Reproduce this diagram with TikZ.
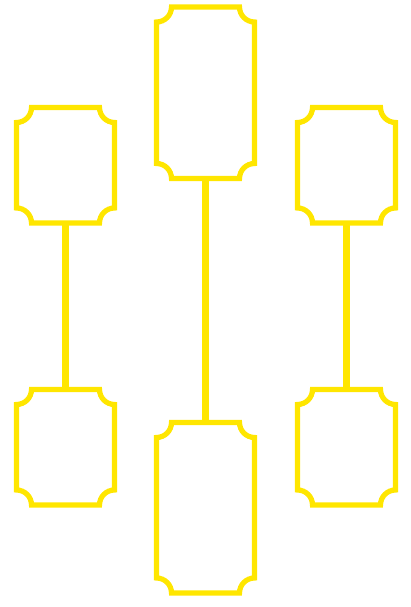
\documentclass[tikz,border=0pt]{standalone}
\begin{document}
\begin{tikzpicture}[x=1pt,y=1pt,
  yel/.style={draw={rgb,255:red,255;green,230;blue,0},line width=5.2pt},
  link/.style={draw={rgb,255:red,255;green,230;blue,0},line width=6.5pt},
  anchorbox/.style={inner sep=0pt,outer sep=0pt,minimum width=98pt}]
\useasboundingbox (0,0) rectangle (411,607);
\def\r{15}
% \concbox{name}{L}{B}{R}{T}
\newcommand\concbox[5]{%
  \node[anchorbox,minimum height={#5-#3}] (#1) at ({(#2+#4)/2},{(#3+#5)/2}) {};
  \draw[yel,line join=miter] ({#4-\r},#5) arc[start angle=180,end angle=270,radius=\r]
    -- (#4,{#3+\r}) arc[start angle=90,end angle=180,radius=\r]
    -- ({#2+\r},#3) arc[start angle=0,end angle=90,radius=\r]
    -- (#2,{#5-\r}) arc[start angle=270,end angle=360,radius=\r] -- cycle;}
\concbox{lt}{16.5}{384}{114.5}{499.5}
\concbox{lb}{16.5}{102}{114.5}{217.5}
\concbox{mt}{156.5}{428.5}{254.5}{600}
\concbox{mb}{156.5}{14}{254.5}{184.5}
\concbox{rt}{297.5}{384}{395.5}{499.5}
\concbox{rb}{297.5}{102}{395.5}{217.5}
\draw[link] (lt.south) -- (lb.north);
\draw[link] (mt.south) -- (mb.north);
\draw[link] (rt.south) -- (rb.north);
\end{tikzpicture}
\end{document}
